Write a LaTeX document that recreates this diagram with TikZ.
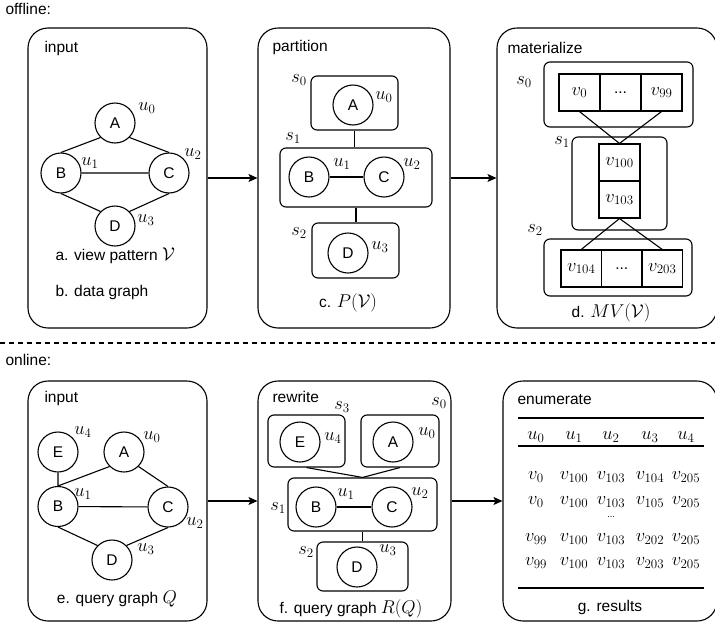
\RequirePackage{fix-cm}
\documentclass[tikz,border=0pt]{standalone}
\usepackage[no-math]{fontspec}
\setmainfont{Liberation Sans}
\usetikzlibrary{arrows.meta}
\DeclareMathSizes{15.5}{18.5}{13}{9.5}

\begin{document}
\fontsize{15.5}{18}\selectfont
\begin{tikzpicture}[x=1pt,y=-1pt,line width=1.1pt,
  font=\fontsize{15.5}{18}\selectfont,
  panel/.style={draw,rounded corners=20pt,inner sep=0pt},
  grp/.style={draw,rounded corners=6pt,inner sep=0pt},
  vtx/.style={draw,circle,minimum size=40pt,inner sep=0pt},
  cell/.style={draw,minimum width=41pt,minimum height=37pt,inner sep=0pt},
  lbl/.style={inner sep=0pt},
  arr/.style={-{Stealth[length=9pt,width=8pt,inset=2pt]}}]
\useasboundingbox (0,0) rectangle (715,627);

\node[lbl,anchor=west] (off) at (5,9) {offline:};
\node[lbl,anchor=west] (on) at (5,360) {online:};
\draw[dash pattern=on 5pt off 4pt] (0,343) -- (715,343);

% panels
\node[panel,minimum width=179pt,minimum height=300pt] (in1) at (117.5,178) {};
\node[panel,minimum width=192pt,minimum height=300pt] (part) at (354,178) {};
\node[panel,minimum width=220pt,minimum height=300pt] (mat) at (607,178) {};
\node[panel,minimum width=179pt,minimum height=240pt] (in2) at (117.5,501) {};
\node[panel,minimum width=193pt,minimum height=240pt] (rew) at (354.5,501) {};
\node[panel,minimum width=214pt,minimum height=240pt] (enu) at (610,501) {};

\draw[arr] (in1) -- (part);
\draw[arr] (part) -- (mat);
\draw[arr] (in2) -- (rew);
\draw[arr] (rew) -- (enu);

\node[lbl,anchor=west] at (44,48) {input};
\node[lbl,anchor=west] at (272,47) {partition};
\node[lbl,anchor=west] at (507,48) {materialize};
\node[lbl,anchor=west] at (44,398) {input};
\node[lbl,anchor=west] at (272,397) {rewrite};
\node[lbl,anchor=west] at (517,400) {enumerate};

% view pattern
\node[vtx] (a1) at (115,123) {A};
\node[vtx] (b1) at (61,173) {B};
\node[vtx] (c1) at (169,173) {C};
\node[vtx] (d1) at (115,226) {D};
\draw (b1.north) -- (a1.225) (a1.315) -- (c1.north) (b1) -- (c1)
  (b1.south) -- (d1.135) (c1.south) -- (d1.45);
\node[lbl] at (147,108) {$u_0$};
\node[lbl] at (90,163) {$u_1$};
\node[lbl] at (193,154) {$u_2$};
\node[lbl] at (146,220) {$u_3$};
\node[lbl,anchor=west] at (55,256) {a. view pattern $\mathcal{V}$};
\node[lbl,anchor=west] at (55,292) {b. data graph};

% partition
\node[grp,minimum width=87pt,minimum height=54pt] (s0p) at (354.5,103) {};
\node[grp,minimum width=152pt,minimum height=59pt] (s1p) at (356,177.5) {};
\node[grp,minimum width=87pt,minimum height=55pt] (s2p) at (355.5,250.5) {};
\draw (s0p.south) -- (s0p.south |- s1p.north);
\draw (s1p.south) -- (s1p.south |- s2p.north);
\node[vtx] (a2) at (353,105) {A};
\node[vtx] (b2) at (309,177) {B};
\node[vtx] (c2) at (384,177) {C};
\node[vtx] (d2) at (348,253) {D};
\draw (b2) -- (c2);
\node[lbl] at (299,80) {$s_0$};
\node[lbl] at (384,97) {$u_0$};
\node[lbl] at (293,138) {$s_1$};
\node[lbl] at (342,164) {$u_1$};
\node[lbl] at (412,164) {$u_2$};
\node[lbl] at (299,233) {$s_2$};
\node[lbl] at (380,247) {$u_3$};
\node[lbl] at (348,303) {c. $P(\mathcal{V})$};

% materialize
\node[grp,minimum width=149pt,minimum height=65pt] (m0) at (618.5,94.5) {};
\node[grp,minimum width=95pt,minimum height=93pt] (m1) at (619.5,183.5) {};
\node[grp,minimum width=148pt,minimum height=57pt] (m2) at (618,267.5) {};
\node[cell] (r0a) at (579.5,92.5) {$v_{0}$};
\node[cell] (r0b) at (620.5,92.5) {...};
\node[cell] (r0c) at (661.5,92.5) {$v_{99}$};
\node[cell] (r1a) at (619.5,162.5) {$v_{100}$};
\node[cell] (r1b) at (619.5,199.5) {$v_{103}$};
\node[cell,minimum width=40.5pt] (r2a) at (581.25,268.5) {$v_{104}$};
\node[cell,minimum width=40.5pt] (r2b) at (621.75,268.5) {...};
\node[cell,minimum width=40.5pt] (r2c) at (662.25,268.5) {$v_{203}$};
\draw (r0a.south) -- (r1a.north) (r0c.south) -- (r1a.north);
\draw (r1b.south) -- (r2a.north) (r1b.south) -- (r2c.north);
\node[lbl] at (524,82) {$s_0$};
\node[lbl] at (562,142) {$s_1$};
\node[lbl] at (535,230) {$s_2$};
\node[lbl] at (611,313) {d. $MV(\mathcal{V})$};

% query graph
\node[vtx] (e4) at (58,452) {E};
\node[vtx] (a4) at (124,452) {A};
\node[vtx] (b4) at (58,506.5) {B};
\node[vtx] (c4) at (168,507) {C};
\node[vtx] (d4) at (112,560) {D};
\draw (e4) -- (b4) (b4.north) -- (a4.225) (a4.315) -- (c4.north) (b4) -- (c4)
  (b4.south) -- (d4.135) (c4.south) -- (d4.45);
\node[lbl] at (83,432) {$u_4$};
\node[lbl] at (152,437) {$u_0$};
\node[lbl] at (83,494) {$u_1$};
\node[lbl] at (195,523) {$u_2$};
\node[lbl] at (146,549) {$u_3$};
\node[lbl] at (117,599) {e. query graph $Q$};

% rewrite
\node[grp,minimum width=77pt,minimum height=52pt] (s3r) at (306.5,441) {};
\node[grp,minimum width=78pt,minimum height=52pt] (s0r) at (400,441) {};
\node[grp,minimum width=149pt,minimum height=53pt] (s1r) at (362.5,504.5) {};
\node[grp,minimum width=91pt,minimum height=49pt] (s2r) at (362.5,566.5) {};
\draw (s3r.south) -- (s1r.north) (s0r.south) -- (s1r.north);
\draw (s1r.south) -- (s2r.north);
\node[vtx] (e5) at (300,442) {E};
\node[vtx] (a5) at (393,442) {A};
\node[vtx] (b5) at (316,507) {B};
\node[vtx] (c5) at (392,507) {C};
\node[vtx] (d5) at (357,567) {D};
\draw (b5) -- (c5);
\node[lbl] at (342,407) {$s_3$};
\node[lbl] at (439,403) {$s_0$};
\node[lbl] at (333,438) {$u_4$};
\node[lbl] at (427,433) {$u_0$};
\node[lbl] at (278,508) {$s_1$};
\node[lbl] at (346,494) {$u_1$};
\node[lbl] at (420,493) {$u_2$};
\node[lbl] at (306,552) {$s_2$};
\node[lbl] at (388,550) {$u_3$};
\node[lbl] at (351,609) {f. query graph $R(Q)$};

% results
\draw (518,418) -- (704,418);
\draw (518,446) -- (704,446);
\draw (518,588) -- (704,588);
\foreach \x [count=\i from 0] in {536,574,611,650,686}
  \node[lbl] (h\i) at (\x,437) {$u_{\i}$};
\foreach \y/\p/\q [count=\r] in {477/0/104,502/0/105,539/99/202,563/99/203}{
  \node[lbl] (t\r a) at (536,\y) {$v_{\p}$};
  \node[lbl] (t\r b) at (574,\y) {$v_{100}$};
  \node[lbl] (t\r c) at (611,\y) {$v_{103}$};
  \node[lbl] (t\r d) at (650,\y) {$v_{\q}$};
  \node[lbl] (t\r e) at (686,\y) {$v_{205}$};
}
\node[lbl,font=\fontsize{9}{10}\selectfont] (dots) at (611,517) {...};
\node[lbl] at (610,607) {g. results};
\end{tikzpicture}
\end{document}
